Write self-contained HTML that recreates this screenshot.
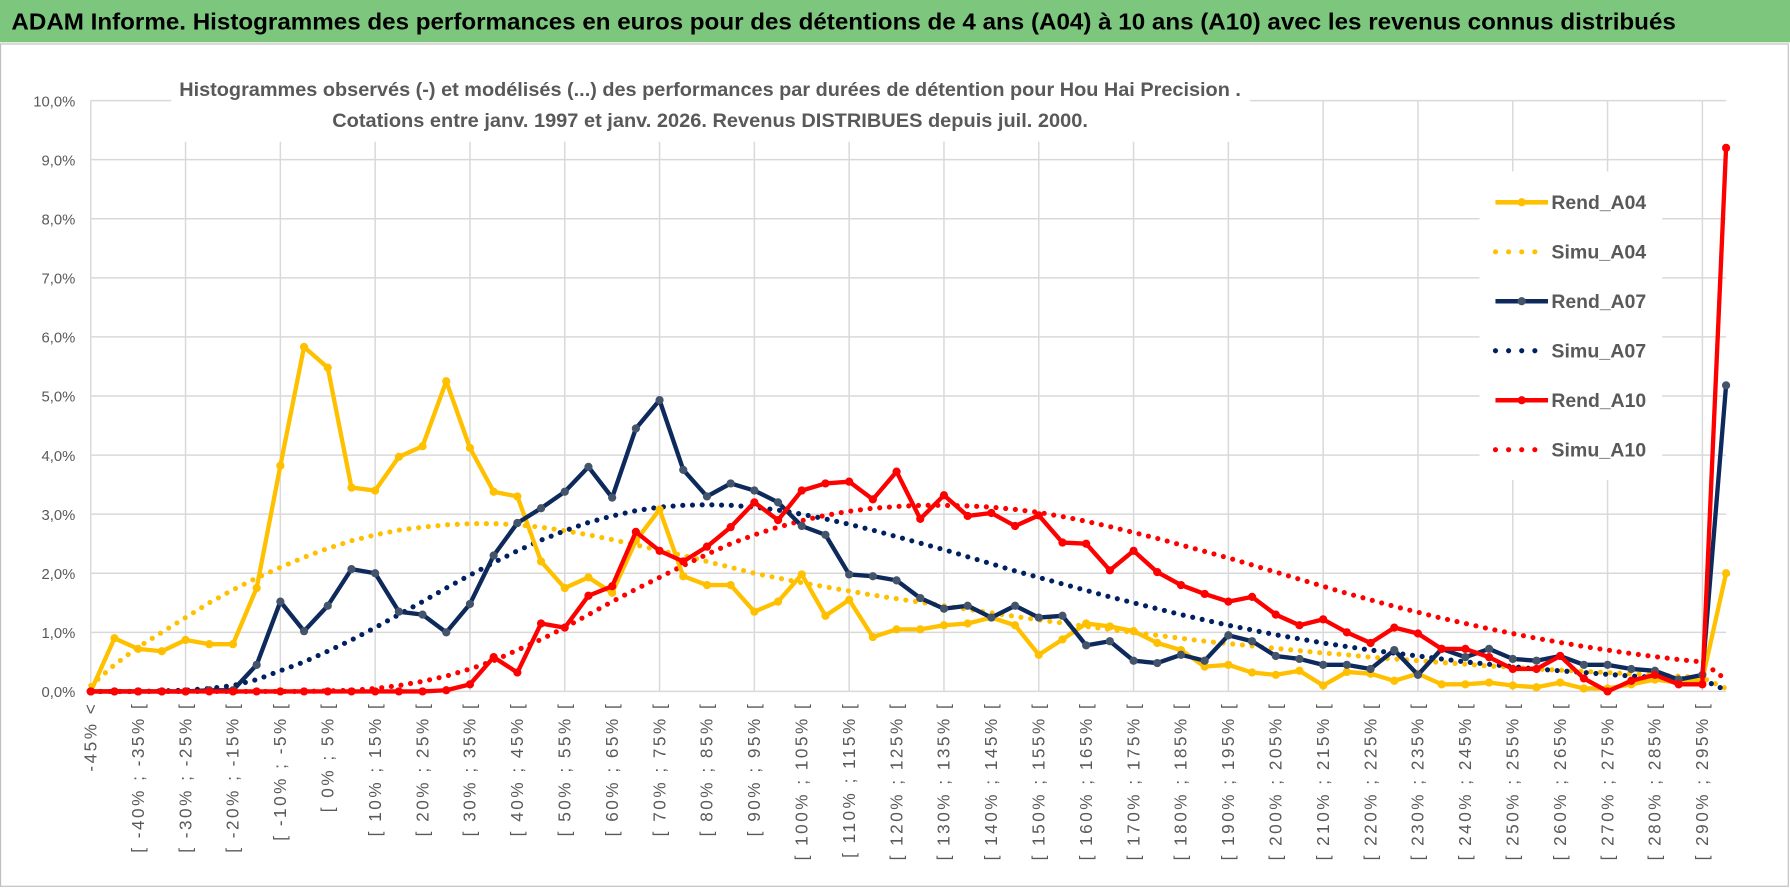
<!DOCTYPE html>
<html><head><meta charset="utf-8">
<style>
html,body{margin:0;padding:0;background:#fff;overflow:hidden}
svg{display:block}
text{font-family:"Liberation Sans",sans-serif}
</style></head>
<body>
<svg id="chart" width="1790" height="888" viewBox="0 0 1568 777" preserveAspectRatio="none" xmlns="http://www.w3.org/2000/svg">
<rect x="0" y="0" width="1568" height="777" fill="#fff"/>
<rect x="0" y="0" width="1568" height="37" fill="#7DC67E"/>
<text x="10" y="26" font-size="20" font-weight="bold" fill="#000" textLength="1458" lengthAdjust="spacingAndGlyphs">ADAM Informe. Histogrammes des performances en euros pour des détentions de 4 ans (A04) à 10 ans (A10) avec les revenus connus distribués</text>
<rect x="0.5" y="38.5" width="1566" height="737" fill="none" stroke="#bfbfbf" stroke-width="1"/>
<g id="grid"></g>
<g id="yticks"></g>
<g id="xticks"></g>
<g id="series"></g>
<rect x="150" y="58" width="945" height="66" fill="#fff"/>
<text x="622" y="84" font-size="17" font-weight="bold" fill="#595959" text-anchor="middle" textLength="930" lengthAdjust="spacingAndGlyphs">Histogrammes observés (-) et modélisés (...) des performances par durées de détention pour Hou Hai Precision .</text>
<text x="622" y="111" font-size="17" font-weight="bold" fill="#595959" text-anchor="middle" textLength="662" lengthAdjust="spacingAndGlyphs">Cotations entre janv. 1997 et janv. 2026. Revenus DISTRIBUES depuis juil. 2000.</text>
<g id="legend"></g>
</svg>
<script>
const categories=[];
categories.push("-45% <");
for(let b=-45;b<300;b+=5){categories.push("[ "+b+"% ; "+(b+5)+"% [");}
const yTicks=[0,1,2,3,4,5,6,7,8,9,10];
const yTickLabels=["0,0%","1,0%","2,0%","3,0%","4,0%","5,0%","6,0%","7,0%","8,0%","9,0%","10,0%"];
const rendA04=[0,0.9,0.72,0.68,0.87,0.8,0.8,1.75,3.82,5.83,5.48,3.45,3.4,3.97,4.15,5.25,4.12,3.38,3.3,2.2,1.75,1.93,1.67,2.55,3.08,1.95,1.8,1.8,1.35,1.52,1.98,1.28,1.55,0.92,1.05,1.05,1.12,1.15,1.25,1.12,0.62,0.88,1.15,1.1,1.02,0.82,0.7,0.42,0.45,0.32,0.28,0.35,0.1,0.33,0.3,0.18,0.3,0.12,0.12,0.15,0.1,0.07,0.15,0.05,0.05,0.12,0.2,0.15,0.2,2.0];
const simuA04=[0.1,0.45,0.75,1.0,1.25,1.5,1.72,1.92,2.1,2.27,2.42,2.55,2.65,2.73,2.78,2.82,2.84,2.84,2.82,2.78,2.72,2.65,2.57,2.48,2.39,2.3,2.2,2.1,2.0,1.92,1.84,1.77,1.7,1.63,1.57,1.51,1.45,1.39,1.33,1.27,1.21,1.16,1.1,1.05,1.0,0.95,0.9,0.85,0.81,0.77,0.73,0.69,0.65,0.62,0.58,0.55,0.52,0.49,0.46,0.43,0.41,0.38,0.36,0.34,0.32,0.3,0.28,0.26,0.23,0.05];
const rendA07=[0,0,0,0,0,0.02,0.02,0.45,1.52,1.02,1.45,2.07,2.0,1.35,1.3,1.0,1.48,2.3,2.85,3.1,3.38,3.8,3.28,4.45,4.93,3.75,3.3,3.52,3.4,3.2,2.8,2.65,1.98,1.95,1.88,1.58,1.4,1.45,1.25,1.45,1.25,1.28,0.78,0.85,0.52,0.48,0.62,0.52,0.95,0.85,0.6,0.55,0.45,0.45,0.38,0.7,0.28,0.72,0.58,0.72,0.55,0.52,0.6,0.45,0.45,0.38,0.35,0.2,0.28,5.18];
const simuA07=[0,0,0,0.01,0.02,0.05,0.1,0.2,0.35,0.5,0.68,0.87,1.08,1.3,1.52,1.75,1.97,2.18,2.38,2.56,2.72,2.86,2.97,3.06,3.12,3.15,3.16,3.15,3.12,3.07,3.0,2.92,2.83,2.73,2.62,2.51,2.4,2.28,2.16,2.04,1.93,1.82,1.71,1.6,1.5,1.4,1.3,1.21,1.12,1.04,0.96,0.89,0.82,0.76,0.7,0.65,0.6,0.55,0.5,0.46,0.42,0.38,0.35,0.32,0.29,0.26,0.24,0.22,0.2,0.02];
const rendA10=[0,0,0,0,0,0,0,0,0,0,0,0,0,0,0,0.02,0.12,0.58,0.32,1.15,1.08,1.62,1.78,2.7,2.38,2.2,2.45,2.78,3.2,2.9,3.4,3.52,3.55,3.25,3.72,2.92,3.32,2.97,3.02,2.8,2.98,2.52,2.5,2.05,2.38,2.02,1.8,1.65,1.52,1.6,1.3,1.12,1.22,1.0,0.82,1.08,0.98,0.72,0.72,0.58,0.38,0.38,0.6,0.22,0.0,0.18,0.28,0.12,0.12,9.2];
const simuA10=[0,0,0,0,0,0,0,0,0,0,0.01,0.02,0.05,0.1,0.17,0.26,0.38,0.52,0.7,0.88,1.08,1.3,1.52,1.73,1.93,2.13,2.32,2.5,2.65,2.78,2.89,2.98,3.05,3.1,3.13,3.15,3.15,3.14,3.12,3.08,3.03,2.96,2.88,2.79,2.69,2.59,2.48,2.37,2.26,2.14,2.02,1.9,1.78,1.66,1.55,1.44,1.34,1.24,1.15,1.06,0.98,0.9,0.83,0.76,0.7,0.64,0.59,0.54,0.5,0.2];
const seriesNames=["Rend_A04","Simu_A04","Rend_A07","Simu_A07","Rend_A10","Simu_A10"];

const NS="http://www.w3.org/2000/svg";
const X0=79.5,X1=1512,Y0=605,Y10=88;
function xScale(i){return X0+(X1-X0)*i/(categories.length-1);}
function yScale(v){return Y0-(Y0-Y10)*v/10;}
function mk(tag,attrs,parent){const e=document.createElementNS(NS,tag);for(const k in attrs)e.setAttribute(k,attrs[k]);parent.appendChild(e);return e;}

const grid=document.getElementById('grid');
yTicks.forEach((t,i)=>{
  const l=mk('line',{x1:X0,x2:X1,y1:yScale(t),y2:yScale(t),stroke:'#d9d9d9','stroke-width':1.3},grid);
  
  
});
for(let i=0;i<categories.length;i+=4){
  const l=mk('line',{x1:xScale(i),x2:xScale(i),y1:Y10,y2:Y0,stroke:'#d9d9d9','stroke-width':1.3},grid);
  
  
}
const yt=document.getElementById('yticks');
yTicks.forEach((t,i)=>{
  const tx=mk('text',{x:66,y:yScale(t)+5,'font-size':13,fill:'#595959','text-anchor':'end'},yt);
  tx.textContent=yTickLabels[i];
  
  
});
const xt=document.getElementById('xticks');
for(let i=0;i<categories.length-1;i+=2){
  const x=xScale(i)+5,y=614;
  const tx=mk('text',{x:x,y:y,'font-size':15,fill:'#595959','text-anchor':'end',transform:'rotate(-90 '+x+' '+y+')','letter-spacing':'2.2'},xt);
  tx.textContent=categories[i];
  
  
}
const sg=document.getElementById('series');
function drawDotted(data,color,name){
  const pts=data.map((v,i)=>xScale(i)+','+yScale(v)).join(' ');
  const p=mk('polyline',{points:pts,fill:'none',stroke:color,'stroke-width':4.5,'stroke-linecap':'round','stroke-dasharray':'0 8.5'},sg);
  
  
}
function drawLine(data,color,mcolor,name){
  const g=mk('g',{},sg);
  
  
  const pts=data.map((v,i)=>xScale(i)+','+yScale(v)).join(' ');
  mk('polyline',{points:pts,fill:'none',stroke:color,'stroke-width':3.8,'stroke-linejoin':'round'},g);
  data.forEach((v,i)=>{
    const c=mk('circle',{cx:xScale(i),cy:yScale(v),r:3.6,fill:mcolor},g);
    
    
  });
}
drawDotted(simuA04,'#FFC000','simu-a04-line');
drawDotted(simuA07,'#002060','simu-a07-line');
drawDotted(simuA10,'#FF0000','simu-a10-line');
drawLine(rendA04,'#FFC000','#FFC000','rend-a04-line');
drawLine(rendA07,'#0E2A5C','#44546A','rend-a07-line');
drawLine(rendA10,'#FF0000','#FF0000','rend-a10-line');

const lg=document.getElementById('legend');
mk('rect',{x:1296,y:150,width:160,height:270,fill:'#fff'},lg);
const lstyle=[['#FFC000','#FFC000',false],['#FFC000',null,true],['#0E2A5C','#44546A',false],['#002060',null,true],['#FF0000','#FF0000',false],['#FF0000',null,true]];
seriesNames.forEach((n,i)=>{
  const y=177+i*43.3;
  const g=mk('g',{},lg);
  
  
  const s=lstyle[i];
  if(s[2]){mk('line',{x1:1310,x2:1356,y1:y,y2:y,stroke:s[0],'stroke-width':4.5,'stroke-linecap':'round','stroke-dasharray':'0 11.5'},g);}
  else{mk('line',{x1:1310,x2:1356,y1:y,y2:y,stroke:s[0],'stroke-width':4},g);mk('circle',{cx:1333,cy:y,r:3.6,fill:s[1]},g);}
  const t=mk('text',{x:1359,y:y+6,'font-size':17,'font-weight':'bold',fill:'#595959',textLength:'83',lengthAdjust:'spacingAndGlyphs'},g);
  t.textContent=n;
});
</script>
</body></html>
